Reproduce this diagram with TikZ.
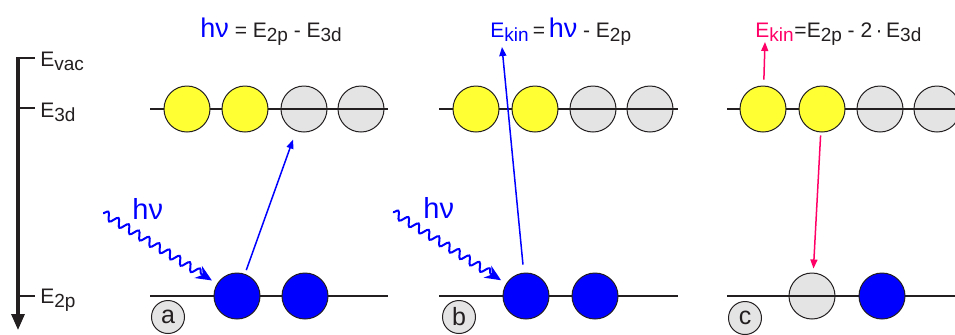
\documentclass[tikz,border=0pt]{standalone}
\usepackage{fontspec}
\setmainfont{Liberation Sans}
\usetikzlibrary{arrows.meta,decorations.pathmorphing}

\definecolor{eblue}{RGB}{0,0,255}
\definecolor{eyellow}{RGB}{255,255,51}
\definecolor{egrey}{RGB}{228,228,228}
\definecolor{epink}{RGB}{255,0,102}
\definecolor{ink}{RGB}{35,31,32}

% subscript of an energy level
\newcommand{\sbs}[1]{\raisebox{-0.4ex}{\fontsize{9.5pt}{9.5pt}\selectfont #1}}
\newcommand{\hvfont}{\fontsize{13.5pt}{13.5pt}\selectfont}

\tikzset{
  level/.style={draw=ink, line width=0.75pt},
  occ/.style={circle, draw=ink, line width=0.5pt, fill=eyellow, minimum size=23pt, inner sep=0pt},
  hole/.style={occ, fill=egrey},
  core/.style={occ, fill=eblue},
  tag/.style={circle, draw=ink, line width=0.5pt, fill=egrey, minimum size=16.5pt, inner sep=0pt,
    text=ink, font=\fontsize{12.5pt}{12.5pt}\selectfont},
  txt/.style={text=ink, font=\fontsize{10.5pt}{10.5pt}\selectfont, inner sep=0pt},
  photon/.style={eblue, line width=1pt, decorate,
    decoration={snake, amplitude=2pt, segment length=6pt, post length=8pt},
    -{Stealth[length=8pt,width=7pt]}, shorten >=3pt},
  exc/.style={eblue, line width=0.75pt, -{Triangle[length=4.5pt,width=3.5pt]}},
  auger/.style={epink, line width=0.75pt, -{Triangle[length=4.5pt,width=3.5pt]}},
}

\begin{document}
\begin{tikzpicture}[x=0.5pt, y=-0.5pt]
  \clip (0,0) rectangle (955,334);

  % energy axis
  \draw[ink, line width=1.6pt, -{Triangle[length=8pt,width=6.5pt]}] (18,57.3) -- (18,330);
  \draw[ink, line width=0.6pt] (18,58) -- (35,58) (18,108) -- (35,108) (18,296) -- (35,296);
  \node[txt, anchor=base west] (evac) at (40,66) {E\sbs{vac}};
  \node[txt, anchor=base west] (e3d) at (40,117) {E\sbs{3d}};
  \node[txt, anchor=base west] (e2p) at (40,303) {E\sbs{2p}};

  % (a) excitation
  \begin{scope}
    \node[hole] (a3d3) at (304,109) {};
    \node[hole] (a3d4) at (361,109) {};
    \draw[level] (150,109) -- (388,109);
    \draw[level] (150,296) -- (388,296);
    \node[occ] (a3d1) at (187,109) {};
    \node[occ] (a3d2) at (245,109) {};
    \node[core] (a2p1) at (237,296) {};
    \node[core] (a2p2) at (305,296) {};
    \node[tag] (atag) at (168,317) {a};
    \coordinate (aph) at (103,213);
    \draw[photon] (aph) -- (a2p1);
    \node[txt, anchor=base west, text=eblue, font=\fontsize{14.5pt}{14.5pt}\selectfont] (ahv) at (132,219) {hν};
    \draw[exc, shorten <=2pt, shorten >=4.5pt] (a2p1) -- (a3d3);
    \node[txt, anchor=base west] (atitle) at (200,37) {\textcolor{eblue}{\hvfont hν} = E\sbs{2p} - E\sbs{3d}};
  \end{scope}

  % (b) photoemission
  \begin{scope}[shift={(289,0)}]
    \node[hole] (b3d3) at (304,109) {};
    \node[hole] (b3d4) at (361,109) {};
    \draw[level] (150,109) -- (389,109);
    \draw[level] (150,296) -- (389,296);
    \node[occ] (b3d1) at (187,109) {};
    \node[occ] (b3d2) at (246,109) {};
    \node[core] (b2p1) at (237,296) {};
    \node[core] (b2p2) at (306,296) {};
    \node[tag] (btag) at (170,317) {b};
    \coordinate (bph) at (104,212);
    \draw[photon] (bph) -- (b2p1);
    \node[txt, anchor=base west, text=eblue, font=\fontsize{14.5pt}{14.5pt}\selectfont] (bhv) at (134,218) {hν};
    \node[txt, anchor=base west, text=eblue] (bkin) at (201,37) {E\sbs{kin}};
    \node[txt, anchor=base west] (btitle) at (bkin.base east) {\,=\,\textcolor{eblue}{\hvfont hν} - E\sbs{2p}};
    \coordinate (bup) at (213,47);
    \draw[exc, shorten <=4pt] (b2p1) -- (bup);
  \end{scope}

  % (c) Auger decay
  \begin{scope}[shift={(577,0)}]
    \node[hole] (c3d3) at (303,109) {};
    \node[hole] (c3d4) at (360,109) {};
    \node[hole] (c2p1) at (235,296) {};
    \draw[level] (150,109) -- (400,109);
    \draw[level] (150,296) -- (400,296);
    \node[occ] (c3d1) at (186,109) {};
    \node[occ] (c3d2) at (245,109) {};
    \node[core] (c2p2) at (305,296) {};
    \node[tag] (ctag) at (168,318) {c};
    \node[txt, anchor=base west, text=epink] (ckin) at (178,37) {E\sbs{kin}};
    \node[txt, anchor=base west] (ctitle) at (ckin.base east) {=E\sbs{2p} - 2\,·\,E\sbs{3d}};
    \coordinate (cup) at (188,42);
    \draw[auger, shorten <=3pt] (c3d1) -- (cup);
    \draw[auger, shorten <=1.5pt, shorten >=2pt] (c3d2) -- (c2p1);
  \end{scope}
\end{tikzpicture}
\end{document}
